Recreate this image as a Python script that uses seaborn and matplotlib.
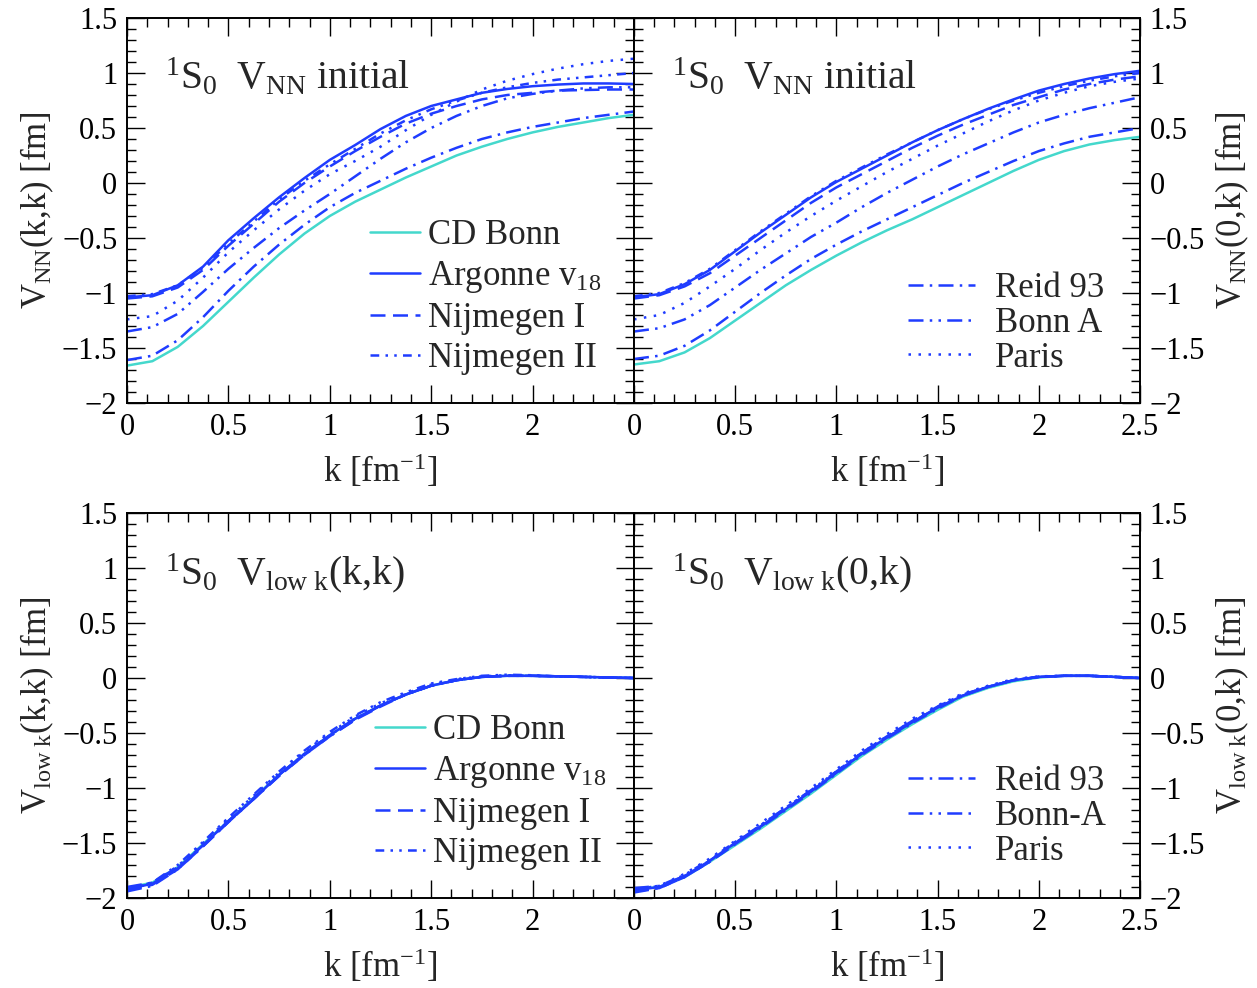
import pandas as pd
import matplotlib
matplotlib.use("Agg")
import matplotlib.pyplot as plt
import seaborn as sns
from matplotlib.lines import Line2D
from matplotlib.ticker import MultipleLocator, FuncFormatter

# momentum grid [fm^-1]
K = [0.0, 0.125, 0.25, 0.375, 0.5, 0.625, 0.75, 0.875, 1.0, 1.125, 1.25,
     1.375, 1.5, 1.625, 1.75, 1.875, 2.0, 2.125, 2.25, 2.375, 2.5]

POTENTIALS = ["CD Bonn", "Argonne v18", "Nijmegen I", "Nijmegen II",
              "Reid 93", "Bonn A", "Paris"]

# V_NN(k,k) initial
vnn_kk = {
    "CD Bonn":     [-1.66, -1.62, -1.49, -1.30, -1.08, -0.86, -0.65, -0.46, -0.30, -0.17, -0.06,
                    0.05, 0.15, 0.25, 0.33, 0.40, 0.46, 0.51, 0.55, 0.59, 0.62],
    "Argonne v18": [-1.04, -1.02, -0.93, -0.76, -0.52, -0.32, -0.13, 0.045, 0.21, 0.345, 0.49,
                    0.61, 0.70, 0.76, 0.82, 0.855, 0.88, 0.895, 0.905, 0.905, 0.90],
    "Nijmegen I":  [-1.05, -1.03, -0.95, -0.79, -0.57, -0.37, -0.17, 0.0, 0.15, 0.29, 0.42,
                    0.54, 0.63, 0.70, 0.76, 0.80, 0.82, 0.84, 0.845, 0.85, 0.85],
    "Nijmegen II": [-1.03, -1.01, -0.93, -0.77, -0.55, -0.35, -0.15, 0.02, 0.17, 0.31, 0.45,
                    0.57, 0.67, 0.75, 0.82, 0.87, 0.91, 0.94, 0.96, 0.98, 1.00],
    "Reid 93":     [-1.61, -1.57, -1.43, -1.22, -0.98, -0.76, -0.56, -0.38, -0.22, -0.09, 0.02,
                    0.13, 0.23, 0.32, 0.40, 0.46, 0.51, 0.55, 0.59, 0.62, 0.65],
    "Bonn A":      [-1.35, -1.31, -1.19, -0.99, -0.78, -0.59, -0.41, -0.25, -0.10, 0.06, 0.22,
                    0.37, 0.50, 0.61, 0.70, 0.77, 0.81, 0.84, 0.86, 0.87, 0.87],
    "Paris":       [-1.24, -1.21, -1.07, -0.86, -0.63, -0.43, -0.24, -0.07, 0.08, 0.20, 0.33,
                    0.48, 0.62, 0.74, 0.85, 0.93, 0.99, 1.04, 1.08, 1.11, 1.13],
}

# V_NN(0,k) initial
vnn_0k = {
    "CD Bonn":     [-1.65, -1.62, -1.54, -1.41, -1.25, -1.09, -0.93, -0.79, -0.66, -0.54, -0.43,
                    -0.33, -0.22, -0.11, 0.0, 0.11, 0.21, 0.29, 0.35, 0.39, 0.42],
    "Argonne v18": [-1.04, -1.01, -0.92, -0.79, -0.62, -0.45, -0.29, -0.13, 0.01, 0.13, 0.25,
                    0.37, 0.48, 0.58, 0.675, 0.76, 0.84, 0.90, 0.95, 0.99, 1.02],
    "Nijmegen I":  [-1.05, -1.02, -0.94, -0.82, -0.66, -0.50, -0.34, -0.18, -0.04, 0.08, 0.20,
                    0.32, 0.43, 0.53, 0.62, 0.71, 0.78, 0.85, 0.90, 0.94, 0.97],
    "Nijmegen II": [-1.03, -1.00, -0.91, -0.78, -0.61, -0.44, -0.28, -0.12, 0.02, 0.14, 0.26,
                    0.37, 0.48, 0.58, 0.67, 0.75, 0.82, 0.88, 0.93, 0.97, 1.00],
    "Reid 93":     [-1.60, -1.57, -1.48, -1.34, -1.17, -1.00, -0.84, -0.69, -0.56, -0.44, -0.33,
                    -0.22, -0.11, 0.0, 0.10, 0.20, 0.29, 0.36, 0.42, 0.46, 0.50],
    "Bonn A":      [-1.35, -1.32, -1.24, -1.11, -0.95, -0.79, -0.64, -0.49, -0.36, -0.22, -0.09,
                    0.03, 0.15, 0.26, 0.36, 0.46, 0.55, 0.62, 0.68, 0.73, 0.78],
    "Paris":       [-1.24, -1.20, -1.09, -0.94, -0.78, -0.61, -0.45, -0.30, -0.16, -0.03, 0.10,
                    0.22, 0.34, 0.45, 0.56, 0.66, 0.75, 0.82, 0.88, 0.92, 0.95],
}

# V_low k(k,k)
vlowk_kk = {
    "CD Bonn":     [-1.91, -1.86, -1.72, -1.51, -1.30, -1.09, -0.88, -0.69, -0.52, -0.37, -0.25,
                    -0.15, -0.07, -0.02, 0.01, 0.02, 0.02, 0.015, 0.01, 0.005, 0.0],
    "Argonne v18": [-1.92, -1.87, -1.73, -1.52, -1.30, -1.10, -0.88, -0.69, -0.52, -0.37, -0.25,
                    -0.15, -0.07, -0.02, 0.01, 0.02, 0.02, 0.015, 0.01, 0.005, 0.0],
    "Nijmegen I":  [-1.93, -1.88, -1.74, -1.53, -1.31, -1.10, -0.89, -0.70, -0.53, -0.38, -0.26,
                    -0.15, -0.07, -0.02, 0.01, 0.02, 0.02, 0.015, 0.01, 0.005, 0.0],
    "Nijmegen II": [-1.93, -1.86, -1.70, -1.49, -1.27, -1.06, -0.85, -0.66, -0.49, -0.34, -0.22,
                    -0.13, -0.05, -0.01, 0.02, 0.03, 0.025, 0.015, 0.01, 0.005, 0.0],
    "Reid 93":     [-1.94, -1.89, -1.74, -1.53, -1.31, -1.10, -0.89, -0.70, -0.53, -0.38, -0.25,
                    -0.15, -0.07, -0.02, 0.01, 0.02, 0.02, 0.015, 0.01, 0.005, 0.0],
    "Bonn A":      [-1.90, -1.86, -1.72, -1.52, -1.30, -1.09, -0.88, -0.69, -0.52, -0.37, -0.25,
                    -0.15, -0.07, -0.02, 0.01, 0.02, 0.02, 0.015, 0.01, 0.005, 0.0],
    "Paris":       [-1.92, -1.86, -1.71, -1.50, -1.28, -1.07, -0.86, -0.67, -0.50, -0.35, -0.23,
                    -0.14, -0.06, -0.01, 0.015, 0.025, 0.02, 0.015, 0.01, 0.005, 0.0],
}

# V_low k(0,k)
vlowk_0k = {
    "CD Bonn":     [-1.92, -1.90, -1.81, -1.67, -1.52, -1.37, -1.21, -1.05, -0.88, -0.71, -0.56,
                    -0.42, -0.29, -0.17, -0.09, -0.03, 0.005, 0.02, 0.02, 0.01, 0.0],
    "Argonne v18": [-1.93, -1.90, -1.80, -1.66, -1.50, -1.35, -1.19, -1.03, -0.86, -0.69, -0.54,
                    -0.40, -0.27, -0.16, -0.08, -0.02, 0.01, 0.02, 0.02, 0.01, 0.0],
    "Nijmegen I":  [-1.94, -1.91, -1.81, -1.67, -1.51, -1.35, -1.19, -1.03, -0.86, -0.69, -0.54,
                    -0.40, -0.27, -0.16, -0.08, -0.02, 0.01, 0.02, 0.02, 0.01, 0.0],
    "Nijmegen II": [-1.92, -1.89, -1.79, -1.65, -1.49, -1.34, -1.18, -1.02, -0.85, -0.68, -0.53,
                    -0.39, -0.26, -0.15, -0.08, -0.02, 0.01, 0.02, 0.02, 0.01, 0.0],
    "Reid 93":     [-1.95, -1.91, -1.81, -1.67, -1.51, -1.36, -1.20, -1.04, -0.87, -0.70, -0.55,
                    -0.41, -0.28, -0.16, -0.08, -0.02, 0.01, 0.02, 0.02, 0.01, 0.0],
    "Bonn A":      [-1.91, -1.89, -1.80, -1.66, -1.50, -1.34, -1.18, -1.02, -0.85, -0.68, -0.53,
                    -0.39, -0.26, -0.15, -0.08, -0.02, 0.01, 0.02, 0.02, 0.01, 0.0],
    "Paris":       [-1.93, -1.89, -1.78, -1.64, -1.48, -1.32, -1.16, -1.00, -0.83, -0.66, -0.51,
                    -0.37, -0.25, -0.14, -0.07, -0.01, 0.015, 0.02, 0.02, 0.01, 0.0],
}

BLUE = "#1f3cff"
CYAN = "#44d8cc"
COLORS = {p: BLUE for p in POTENTIALS}
COLORS["CD Bonn"] = CYAN
DASHES = {
    "CD Bonn": "",
    "Argonne v18": "",
    "Nijmegen I": (6, 3),
    "Nijmegen II": (3.5, 2.5, 1, 2.5, 1, 2.5),
    "Reid 93": (6, 2.5, 1, 2.5),
    "Bonn A": (6, 2.5, 1, 2.5, 1, 2.5),
    "Paris": (1, 3),
}
LW = 1.8

sns.set_style("ticks")
plt.rcParams["font.family"] = ["Liberation Serif", "DejaVu Serif"]
plt.rcParams["mathtext.fontset"] = "custom"
plt.rcParams["mathtext.rm"] = "Liberation Serif"
plt.rcParams["mathtext.it"] = "Liberation Serif:italic"
plt.rcParams["mathtext.bf"] = "Liberation Serif:bold"

fig = plt.figure(figsize=(12.57, 9.88), dpi=100)
W, H = 1257.0, 988.0


def make_ax(x0, y0, x1, y1):
    return fig.add_axes([x0 / W, 1 - y1 / H, (x1 - x0) / W, (y1 - y0) / H])


ax_tl = make_ax(127, 18, 634, 403)
ax_tr = make_ax(634, 18, 1140, 403)
ax_bl = make_ax(127, 513, 634, 898)
ax_br = make_ax(634, 513, 1140, 898)


def fmt_full(v, pos):
    return f"{v:g}".replace("-", "\u2212")


def fmt_left(v, pos):
    if abs(v - 2.5) < 1e-9:
        return ""
    return f"{v:g}".replace("-", "\u2212")


def draw_panel(ax, data, right_side, title, ylabel, leg_names, leg_labels, leg_pos,
               handlelength, handletextpad, labelspacing):
    rows = []
    for p in POTENTIALS:
        for k, v in zip(K, data[p]):
            rows.append({"k": k, "V": v, "potential": p})
    df = pd.DataFrame(rows)
    sns.lineplot(data=df, x="k", y="V", hue="potential", style="potential",
                 palette=COLORS, dashes=DASHES, linewidth=LW, sort=False,
                 errorbar=None, legend=False, ax=ax)

    ax.set_xlim(0, 2.5)
    ax.set_ylim(-2, 1.5)
    ax.xaxis.set_major_locator(MultipleLocator(0.5))
    ax.xaxis.set_minor_locator(MultipleLocator(0.1))
    ax.yaxis.set_major_locator(MultipleLocator(0.5))
    ax.yaxis.set_minor_locator(MultipleLocator(0.1))
    ax.yaxis.set_major_formatter(FuncFormatter(fmt_full))
    ax.xaxis.set_major_formatter(FuncFormatter(fmt_full if right_side else fmt_left))
    ax.tick_params(which="both", direction="in", top=True, bottom=True,
                   left=True, right=True, width=1.0, colors="black",
                   labelsize=22)
    ax.tick_params(which="major", length=13, pad=7)
    ax.tick_params(which="minor", length=6.5)
    if right_side:
        ax.tick_params(labelleft=False, labelright=True)
        ax.yaxis.set_label_position("right")
    for s in ax.spines.values():
        s.set_linewidth(1.4)
        s.set_color("black")

    ax.set_xlabel(r"k [fm$^{-1}$]", fontsize=25)
    ax.xaxis.set_label_coords(0.5, -0.128)
    ax.set_ylabel(ylabel, fontsize=25)
    if right_side:
        ax.yaxis.set_label_coords(1.145, 0.5)
    else:
        ax.yaxis.set_label_coords(-0.14, 0.5)

    ax.text(0.075, 0.815, title, transform=ax.transAxes, fontsize=28.5,
            ha="left", va="baseline")

    handles = []
    for p in leg_names:
        ls = "-" if DASHES[p] == "" else (0, DASHES[p])
        handles.append(Line2D([], [], color=COLORS[p], lw=LW, linestyle=ls))
    ax.legend(handles, leg_labels, loc="upper left", bbox_to_anchor=leg_pos,
              frameon=False, borderaxespad=0, borderpad=0, fontsize=25,
              handlelength=handlelength, handletextpad=handletextpad,
              labelspacing=labelspacing)


left_names = ["CD Bonn", "Argonne v18", "Nijmegen I", "Nijmegen II"]
left_labels = ["CD Bonn", r"Argonne v$_{18}$", "Nijmegen I", "Nijmegen II"]
right_names = ["Reid 93", "Bonn A", "Paris"]

draw_panel(ax_tl, vnn_kk, False, r"$^{1}\mathrm{S}_{0}\ \ \mathrm{V}_{\mathrm{NN}}$ initial",
           r"V$_{\mathrm{NN}}$(k,k) [fm]", left_names, left_labels, (0.479, 0.478),
           1.45, 0.23, 0.2)
draw_panel(ax_tr, vnn_0k, True, r"$^{1}\mathrm{S}_{0}\ \ \mathrm{V}_{\mathrm{NN}}$ initial",
           r"V$_{\mathrm{NN}}$(0,k) [fm]", right_names, ["Reid 93", "Bonn A", "Paris"],
           (0.541, 0.34), 1.93, 0.58, 0.05)
draw_panel(ax_bl, vlowk_kk, False, r"$^{1}\mathrm{S}_{0}\ \ \mathrm{V}_{\mathrm{low\ k}}$(k,k)",
           r"V$_{\mathrm{low\ k}}$(k,k) [fm]", left_names, left_labels, (0.489, 0.478),
           1.45, 0.23, 0.2)
draw_panel(ax_br, vlowk_0k, True, r"$^{1}\mathrm{S}_{0}\ \ \mathrm{V}_{\mathrm{low\ k}}$(0,k)",
           r"V$_{\mathrm{low\ k}}$(0,k) [fm]", right_names, ["Reid 93", "Bonn-A", "Paris"],
           (0.541, 0.345), 1.93, 0.58, 0.05)

fig.savefig("out.png", dpi=100)
